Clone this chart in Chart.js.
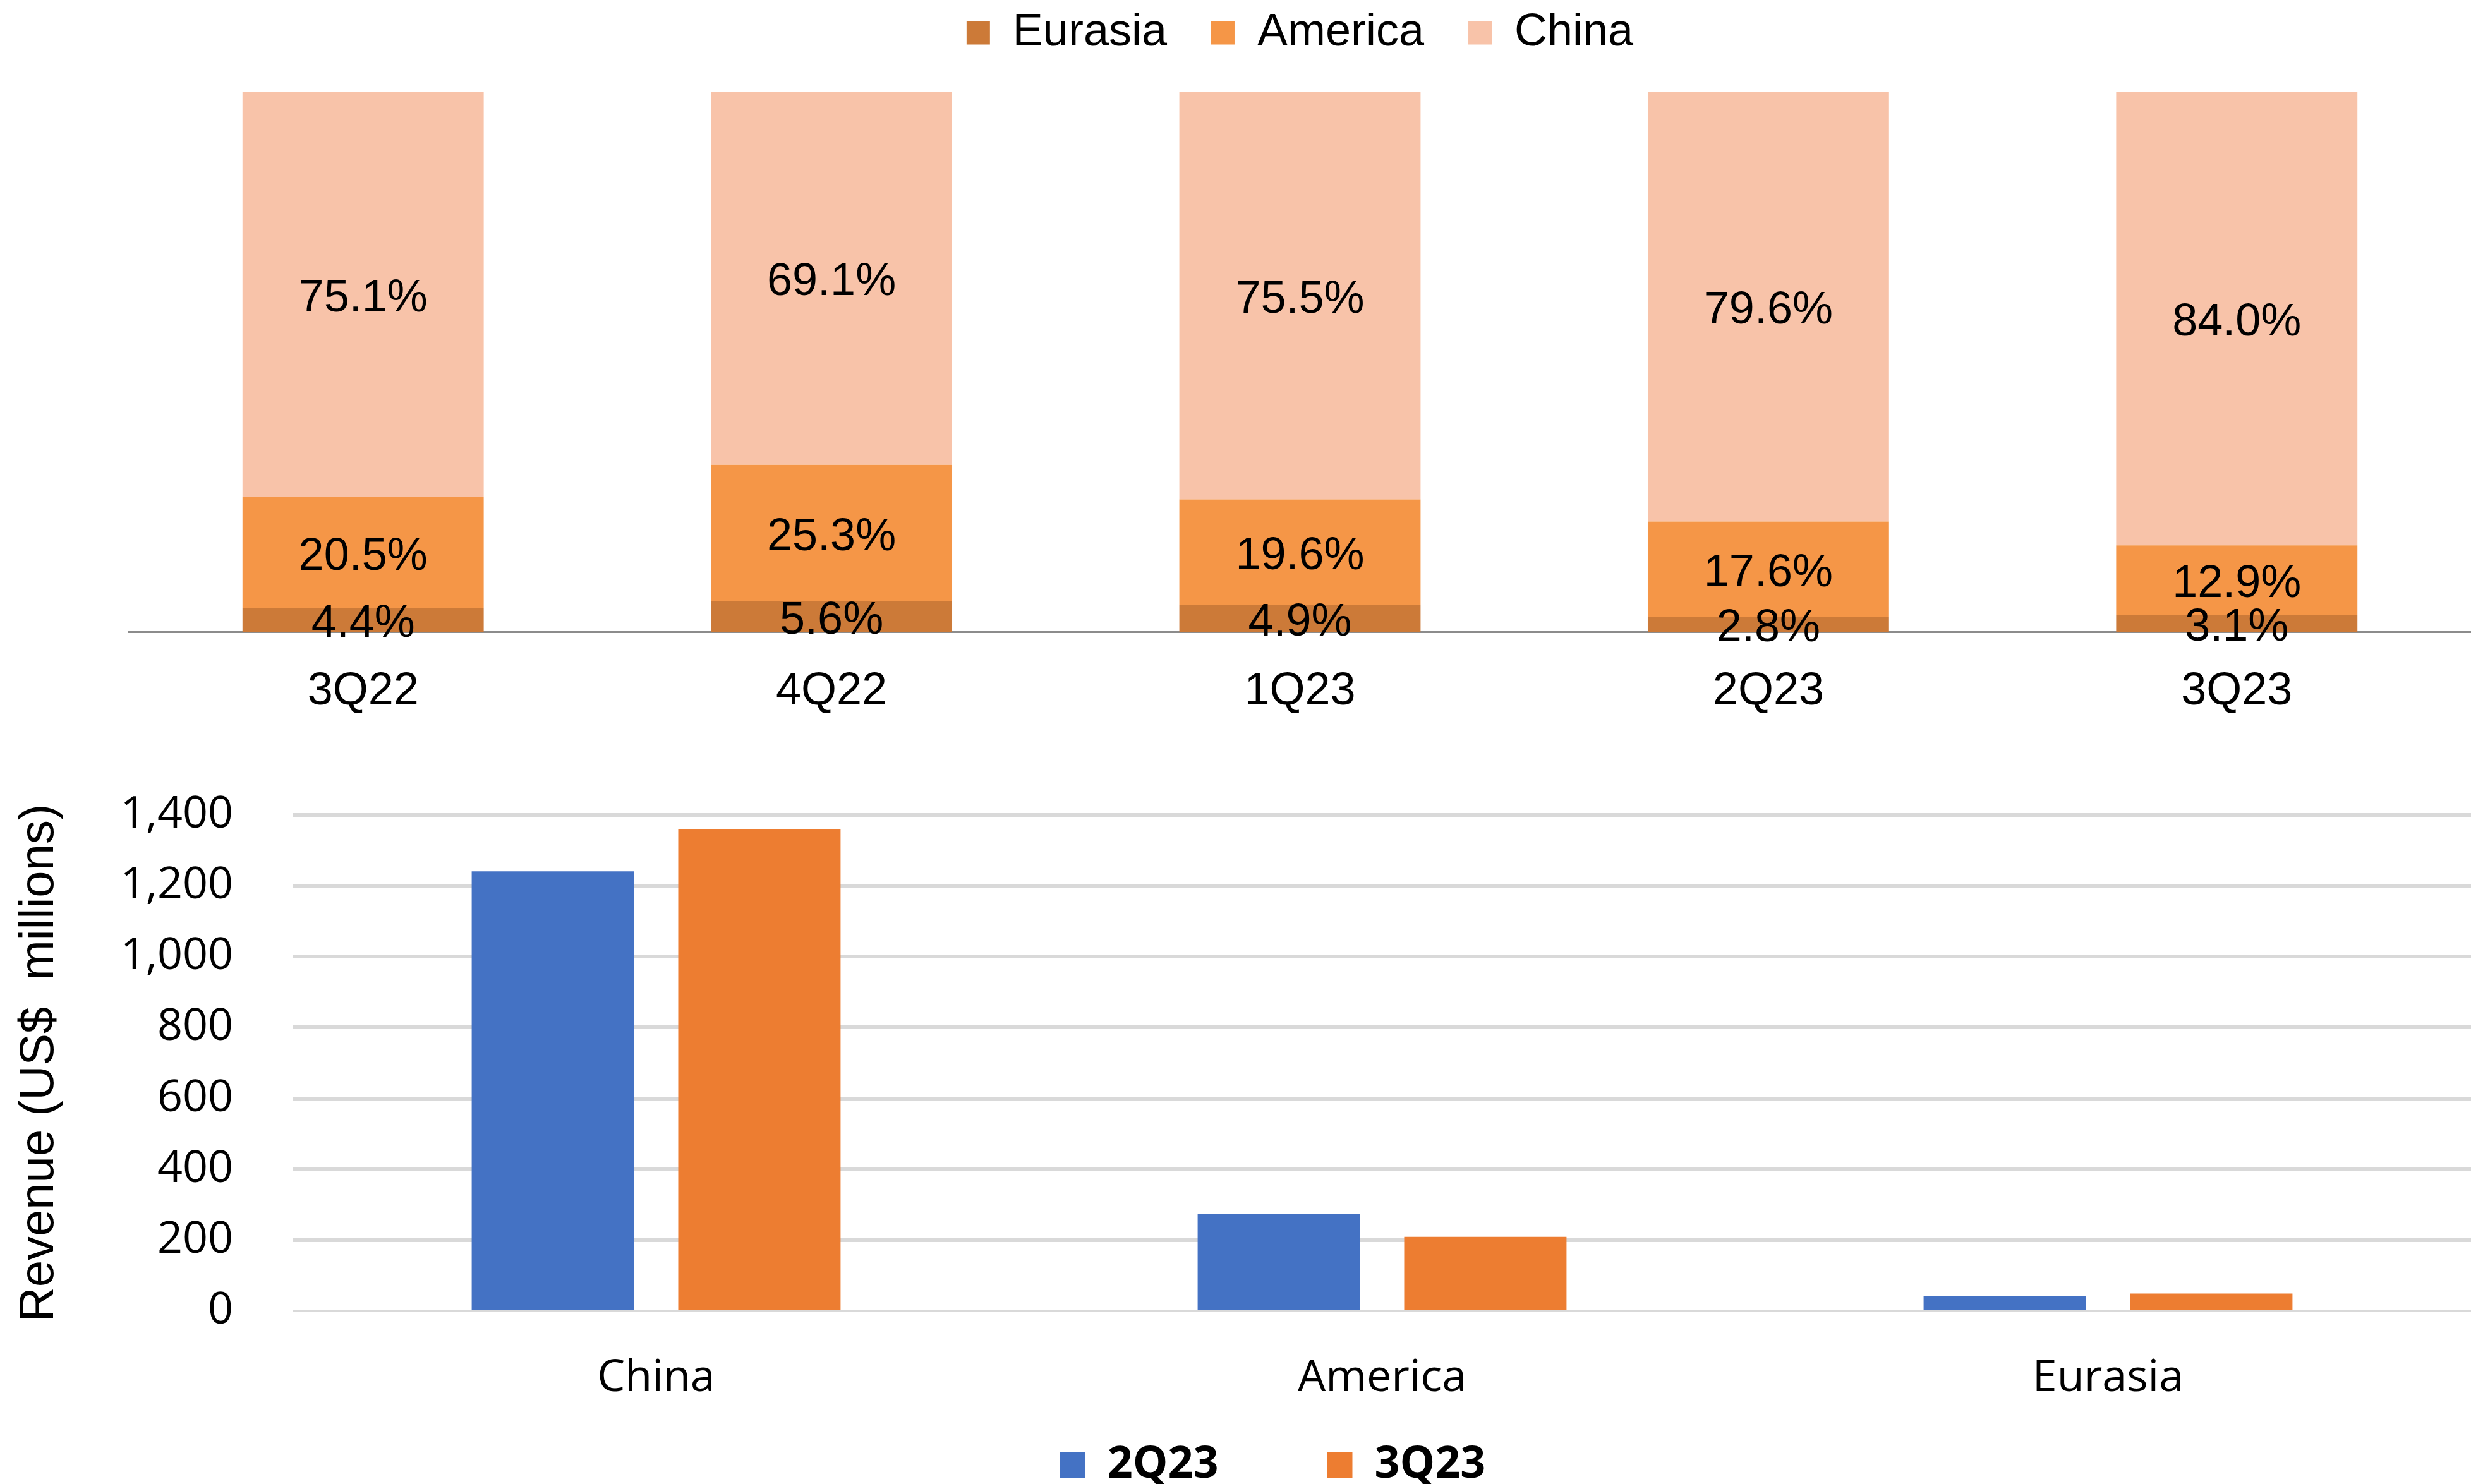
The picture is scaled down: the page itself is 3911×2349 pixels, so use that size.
<!DOCTYPE html>
<html>
<head>
<meta charset="utf-8">
<script src="https://cdn.jsdelivr.net/npm/chart.js@4.4.1/dist/chart.umd.min.js"></script>
<style>
  html, body { margin: 0; padding: 0; background: #fff; overflow: hidden; }
  body { width: 3911px; height: 2349px; position: relative; }
  #shareChart { position: absolute; left: 0; top: -54px; }
  #revenueChart { position: absolute; left: 0; top: 1150px; }
</style>
</head>
<body>
<canvas id="shareChart" width="3911" height="1209"></canvas>
<canvas id="revenueChart" width="3911" height="1199"></canvas>
<script>
// revenue mix by quarter (%)
var quarters = ['3Q22', '4Q22', '1Q23', '2Q23', '3Q23'];
var shareEurasia = [4.4, 5.6, 4.9, 2.8, 3.1];
var shareAmerica = [20.5, 25.3, 19.6, 17.6, 12.9];
var shareChina = [75.1, 69.1, 75.5, 79.6, 84.0];

// revenue by region (US$ millions)
var regions = ['China', 'America', 'Eurasia'];
var revenue2Q23 = [1241, 274, 43];
var revenue3Q23 = [1360, 209, 49];
var revenueMax = 1400;
var revenueStep = 200;

var arial = '"Liberation Sans", Arial, sans-serif';
var calibri = '"Open Sans", sans-serif';

// percentage written in the middle of every stacked segment
var segmentLabels = {
	id: 'segmentLabels',
	afterDatasetsDraw: function(chart) {
		var ctx = chart.ctx;
		ctx.save();
		ctx.font = '72px ' + arial;
		ctx.fillStyle = '#000';
		ctx.textAlign = 'center';
		ctx.textBaseline = 'middle';
		chart.data.datasets.forEach(function(ds, i) {
			chart.getDatasetMeta(i).data.forEach(function(bar, j) {
				ctx.fillText(ds.data[j].toFixed(1) + '%', bar.x, (bar.y + bar.base) / 2 + 7);
			});
		});
		ctx.restore();
	}
};

new Chart(document.getElementById('shareChart'), {
	type: 'bar',
	data: {
		labels: quarters,
		datasets: [
			{ label: 'Eurasia', data: shareEurasia, backgroundColor: '#CC7A38', xAxisID: 'x' },
			{ label: 'America', data: shareAmerica, backgroundColor: '#F59647', xAxisID: 'x' },
			{ label: 'China', data: shareChina, backgroundColor: '#F8C3A9', xAxisID: 'x' }
		]
	},
	options: {
		responsive: false,
		animation: false,
		layout: { padding: { left: 204, right: 0, top: 0, bottom: 0 } },
		datasets: { bar: { barPercentage: 0.515, categoryPercentage: 1 } },
		plugins: {
			legend: {
				position: 'top',
				labels: { font: { family: arial, size: 72 }, color: '#000', boxWidth: 37, boxHeight: 37, padding: 70 }
			},
			tooltip: { enabled: false }
		},
		scales: {
			x: {
				stacked: true,
				grid: { display: false, drawTicks: false },
				border: { display: true, color: '#8c8c8c', width: 3 },
				ticks: { color: '#000', font: { family: arial, size: 72 }, padding: 52, maxRotation: 0 },
				afterFit: function(s) { s.height = 155; }
			},
			xTop: {
				type: 'category',
				position: 'top',
				grid: { display: false, drawTicks: false },
				border: { display: false },
				ticks: { display: false },
				afterFit: function(s) { s.height = 47; }
			},
			y: { stacked: true, display: false, min: 0, max: 100 }
		}
	},
	plugins: [segmentLabels]
});

new Chart(document.getElementById('revenueChart'), {
	type: 'bar',
	data: {
		labels: regions,
		datasets: [
			{ label: '2Q23', data: revenue2Q23, backgroundColor: '#4472C4' },
			{ label: '3Q23', data: revenue3Q23, backgroundColor: '#ED7D31' }
		]
	},
	options: {
		responsive: false,
		animation: false,
		layout: { padding: { left: 118, right: 0, top: 140, bottom: 0 } },
		datasets: { bar: { barPercentage: 0.786, categoryPercentage: 0.569 } },
		plugins: {
			legend: {
				position: 'bottom',
				maxHeight: 237,
				labels: { font: { family: calibri, size: 70, weight: 'bold' }, color: '#000', boxWidth: 40, boxHeight: 40, padding: 172 }
			},
			tooltip: { enabled: false }
		},
		scales: {
			x: {
				grid: { display: false, drawTicks: false },
				border: { display: false },
				// mirrored so the labels are not clipped to the short axis box
				ticks: { color: '#000', font: { family: calibri, size: 70 }, padding: -149, mirror: true },
				afterFit: function(s) { s.height = 37; }
			},
			y: {
				min: 0,
				max: revenueMax,
				ticks: { stepSize: revenueStep, color: '#000', font: { family: calibri, size: 70 }, padding: 95 },
				grid: {
					color: '#d9d9d9',
					drawTicks: false,
					lineWidth: function(c) { return c.tick && c.tick.value === 0 ? 3 : 6; }
				},
				border: { display: false },
				title: {
					display: true,
					text: 'Revenue (US$  millions)',
					color: '#000',
					font: { family: arial, size: 76 },
					padding: { top: -101, bottom: 0 }
				},
				afterFit: function(s) { s.width = 346; }
			}
		}
	}
});
</script>
</body>
</html>
